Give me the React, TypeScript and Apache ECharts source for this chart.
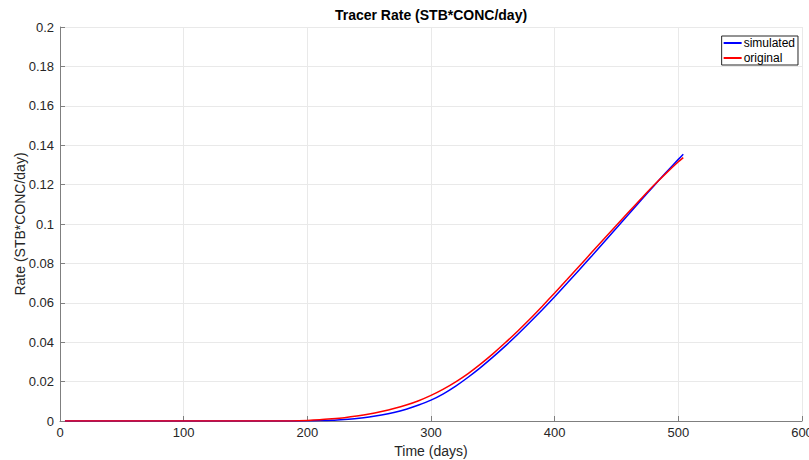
import React, { useEffect, useRef } from "react";
import * as echarts from "echarts";

// Time axis samples (days)
const days: number[] = [
  4, 20, 40, 60, 80, 100, 120, 140, 160, 180, 200,
  210, 220, 230, 240, 250, 260, 270, 280, 290, 300,
  310, 320, 330, 340, 350, 360, 370, 380, 390, 400,
  410, 420, 430, 440, 450, 460, 470, 480, 490, 500, 504,
];

// Simulated tracer rate (STB*CONC/day)
const simulated: number[] = [
  0, 0, 0, 0, 0, 0, 0, 0, 0, 0, 0.0001,
  0.0002, 0.0004, 0.0008, 0.0013, 0.0020, 0.0030, 0.0043, 0.0060, 0.0081, 0.0106,
  0.0138, 0.0177, 0.0222, 0.0271, 0.0324, 0.0380, 0.0439, 0.0501, 0.0565, 0.0631,
  0.0699, 0.0768, 0.0838, 0.0909, 0.0980, 0.1051, 0.1122, 0.1192, 0.1261, 0.1328, 0.1354,
];

// Original tracer rate (STB*CONC/day)
const original: number[] = [
  0, 0, 0, 0, 0, 0, 0, 0, 0, 0, 0.0003,
  0.0006, 0.0011, 0.0017, 0.0025, 0.0035, 0.0048, 0.0063, 0.0081, 0.0103, 0.0130,
  0.0162, 0.0199, 0.0241, 0.0289, 0.0341, 0.0397, 0.0456, 0.0518, 0.0583, 0.0650,
  0.0718, 0.0787, 0.0856, 0.0925, 0.0994, 0.1062, 0.1129, 0.1195, 0.1257, 0.1316, 0.1337,
];

const FONT = "'Liberation Sans', Arial, Helvetica, sans-serif";
const TEXT = "#262626";
const AXIS = "#7f7f7f";

export default function App() {
  const ref = useRef<HTMLDivElement>(null);

  useEffect(() => {
    if (!ref.current) return;
    const chart = echarts.init(ref.current, undefined, { renderer: "svg" });
    const axisLine = { show: true, lineStyle: { color: AXIS, width: 1 } };
    const axisTick = { show: true, inside: true, length: 5, lineStyle: { color: AXIS } };
    const splitLine = { show: true, lineStyle: { color: "#e9e9e9", width: 1 } };
    chart.setOption({
      animation: false,
      backgroundColor: "#ffffff",
      textStyle: { fontFamily: FONT },
      graphic: [
        {
          type: "text",
          x: 431,
          y: 8,
          style: {
            text: "Tracer Rate (STB*CONC/day)",
            fontFamily: FONT,
            fontSize: 14,
            fontWeight: "bold",
            fill: "#000",
            align: "center",
            verticalAlign: "top",
          },
        },
      ],
      legend: {
        right: 11,
        top: 36,
        orient: "vertical",
        backgroundColor: "#fff",
        borderColor: "#262626",
        borderWidth: 1,
        borderRadius: 0,
        padding: [1, 3, 1, 2],
        itemGap: 3,
        itemWidth: 18,
        itemHeight: 2,
        icon: "rect",
        textStyle: {
          fontFamily: FONT,
          fontSize: 12,
          lineHeight: 12,
          color: "#000",
          padding: [0, 0, 0, -3],
        },
        data: ["simulated", "original"],
      },
      grid: {
        left: 60,
        right: 7,
        top: 27,
        bottom: 39,
        containLabel: false,
        outerBoundsMode: "none",
      },
      xAxis: {
        type: "value",
        min: 0,
        max: 600,
        interval: 100,
        name: "Time (days)",
        nameLocation: "middle",
        nameGap: 23,
        nameMoveOverlap: false,
        nameTextStyle: { fontFamily: FONT, fontSize: 14, color: TEXT },
        axisLine,
        axisTick,
        axisLabel: { fontFamily: FONT, fontSize: 13, color: TEXT, margin: 5 },
        splitLine,
      },
      yAxis: {
        type: "value",
        min: 0,
        max: 0.2,
        interval: 0.02,
        name: "Rate (STB*CONC/day)",
        nameLocation: "middle",
        nameGap: 33,
        nameMoveOverlap: false,
        nameTextStyle: { fontFamily: FONT, fontSize: 14, color: TEXT },
        axisLine,
        axisTick,
        axisLabel: {
          fontFamily: FONT,
          fontSize: 13,
          color: TEXT,
          margin: 6,
          formatter: (v: number) => String(+v.toFixed(2)),
        },
        splitLine,
      },
      series: [
        {
          name: "simulated",
          type: "line",
          symbol: "none",
          showSymbol: false,
          smooth: 0.2,
          color: "#0000ff",
          lineStyle: { color: "#0000ff", width: 1.5 },
          data: days.map((d, i) => [d, simulated[i]]),
          z: 2,
        },
        {
          name: "original",
          type: "line",
          symbol: "none",
          showSymbol: false,
          smooth: 0.2,
          color: "#ff0000",
          lineStyle: { color: "#ff0000", width: 1.5 },
          data: days.map((d, i) => [d, original[i]]),
          z: 3,
        },
      ],
    });
    return () => chart.dispose();
  }, []);

  return (
    <div
      ref={ref}
      style={{ position: "fixed", left: 0, top: 0, width: 809, height: 460 }}
    />
  );
}
